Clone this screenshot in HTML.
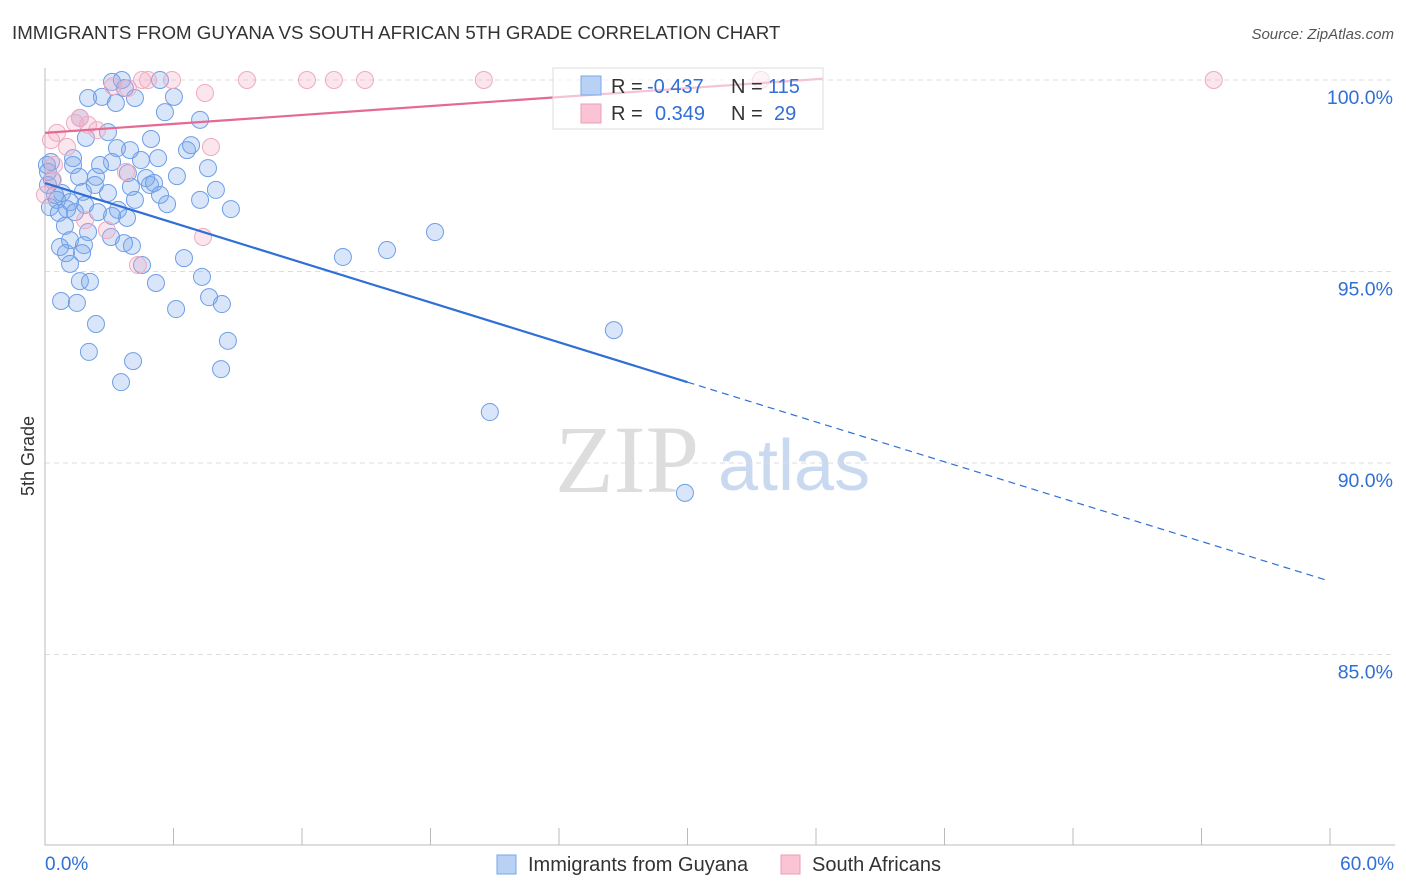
<!DOCTYPE html>
<html><head><meta charset="utf-8"><style>
body{margin:0;background:#fff;font-family:"Liberation Sans",sans-serif}
svg{display:block}
</style></head><body>
<svg id="c" width="1406" height="892">
<text x="12" y="39" font-size="18.7" fill="#333">IMMIGRANTS FROM GUYANA VS SOUTH AFRICAN 5TH GRADE CORRELATION CHART</text>
<text x="1394" y="39" font-size="15" fill="#555" text-anchor="end" font-style="italic">Source: ZipAtlas.com</text>
<text x="34" y="456" font-size="18" fill="#333" transform="rotate(-90 34 456)" text-anchor="middle">5th Grade</text>
<text x="555" y="492" font-size="96" fill="#ddd" font-family="Liberation Serif,serif">ZIP</text>
<text x="718" y="490" font-size="72" fill="#c9daf0">atlas</text>
<g id="grid"></g><g id="pts"></g><g id="lines"></g>
<g>
<rect x="553" y="68" width="270" height="61" fill="#fff" fill-opacity="0.6" stroke="#ddd"/>
<rect x="581" y="76" width="20" height="19" fill="#b9d1f5" stroke="#7aa6e8"/>
<rect x="581" y="104" width="20" height="19" fill="#fac4d5" stroke="#ec9cb6"/>
<text y="93" font-size="20" fill="#333"><tspan x="611">R =</tspan><tspan x="647" fill="#2f6fd6">-0.437</tspan><tspan x="731">N =</tspan><tspan x="768" fill="#2f6fd6">115</tspan></text>
<text y="120" font-size="20" fill="#333"><tspan x="611">R =</tspan><tspan x="655" fill="#2f6fd6">0.349</tspan><tspan x="731">N =</tspan><tspan x="774" fill="#2f6fd6">29</tspan></text>
</g>
<g>
<rect x="497" y="855" width="19" height="19" fill="#b9d1f5" stroke="#7aa6e8"/>
<text x="528" y="871" font-size="20" fill="#333">Immigrants from Guyana</text>
<rect x="781" y="855" width="19" height="19" fill="#fac4d5" stroke="#ec9cb6"/>
<text x="812" y="871" font-size="20" fill="#333">South Africans</text>
</g>
</svg>
<script>
const blueX=[3.13,3.59,5.37,3.73,2.01,2.66,4.20,6.02,3.31,1.63,2.94,1.91,4.95,3.36,6.63,6.82,1.31,3.13,4.48,5.28,0.28,1.31,7.61,0.14,1.59,2.38,3.87,6.16,4.72,0.14,2.33,4.01,4.90,5.09,7.98,0.79,1.77,2.94,5.37,7.24,0.56,1.17,1.87,4.20,5.70,0.23,1.03,2.47,3.41,8.68,3.13,3.83,0.65,1.40,0.93,2.01,1.17,3.08,3.69,4.06,18.21,15.97,13.91,0.70,1.82,0.98,1.17,1.73,6.49,4.53,7.33,1.63,2.10,5.18,0.75,1.49,7.66,8.26,6.12,2.38,26.56,8.54,2.05,4.11,8.22,3.55,20.77,29.88,0.33,0.09,0.47,2.57,3.97,5.60,7.24];
const blueY=[99.95,100,100,99.79,99.53,99.56,99.53,99.56,99.40,99.01,98.64,98.49,98.46,98.22,98.17,98.30,97.96,97.86,97.91,97.96,97.86,97.78,97.70,97.60,97.47,97.47,97.57,97.49,97.44,97.26,97.26,97.21,97.26,97.31,97.13,97.05,97.08,97.05,97.00,96.87,96.87,96.81,96.74,96.87,96.76,96.68,96.63,96.55,96.61,96.63,96.45,96.40,96.53,96.55,96.19,96.03,95.82,95.90,95.74,95.67,96.03,95.56,95.38,95.64,95.69,95.48,95.20,95.48,95.35,95.17,94.86,94.75,94.73,94.70,94.23,94.18,94.33,94.15,94.02,93.63,93.47,93.19,92.90,92.66,92.45,92.11,91.33,89.22,97.39,97.78,97.00,97.78,98.17,99.16,98.96];
const pinkX=[3.17,4.53,4.81,5.93,9.43,12.23,13.49,14.94,20.49,33.43,54.57,7.47,3.87,1.63,1.40,2.01,2.43,0.56,0.28,1.03,7.75,0.42,3.78,0.37,7.38,4.34,2.89,1.87,0];
const pinkY=[99.84,100,100,100,100,100,100,100,100,100,100,99.66,99.79,99.01,98.88,98.83,98.69,98.62,98.43,98.25,98.25,97.78,97.60,97.39,95.90,95.17,96.08,96.34,97.0];
const yTicks=[100,95,90,85];
const yTickLabels=["100.0%","95.0%","90.0%","85.0%"];
const xTickLabels=["0.0%","60.0%"];
const blueTrend=[97.31,-0.1733], pinkTrend=[98.62,0.0389];
const NS='http://www.w3.org/2000/svg';
const X=v=>45+v*(1285/60), Y=v=>80+(100-v)*38.3;
function mk(t,a,p){const e=document.createElementNS(NS,t);for(const k in a)e.setAttribute(k,a[k]);p.appendChild(e);return e;}
const g=document.getElementById('grid');
yTicks.forEach((t,i)=>{
 const l=mk('line',{x1:45,x2:1395,y1:Y(t),y2:Y(t),stroke:'#ddd','stroke-dasharray':'5,4'},g);
 
 
 const tx=mk('text',{x:1393,y:Y(t)+24,'font-size':19.5,fill:'#2f6fd6','text-anchor':'end'},g);
 tx.textContent=yTickLabels[i];
 
 
});
const ax=mk('path',{d:'M45,68V845H1395',stroke:'#bbb',fill:'none'},g);


for(let i=0;i<=10;i++){const t=mk('line',{x1:X(i*6),x2:X(i*6),y1:828,y2:845,stroke:'#bbb'},g);
 
 }
[[0,'start',45],[60,'end',1394]].forEach((d,i)=>{const t=mk('text',{x:d[2],y:870,'font-size':19,fill:'#2f6fd6','text-anchor':d[1]},g);t.textContent=xTickLabels[i];
 
 });
const p=document.getElementById('pts');
blueX.forEach((x,i)=>{const c=mk('circle',{cx:X(x),cy:Y(blueY[i]),r:8.5,fill:'rgba(120,165,235,0.28)',stroke:'#6f9ee6','stroke-width':1},p);
 
 });
pinkX.forEach((x,i)=>{const c=mk('circle',{cx:X(x),cy:Y(pinkY[i]),r:8.5,fill:'rgba(245,165,195,0.28)',stroke:'#efaac0','stroke-width':1},p);
 
 });
const L=document.getElementById('lines');
const f=(t,x)=>t[0]+t[1]*x;
let a=mk('line',{x1:X(0),y1:Y(f(blueTrend,0)),x2:X(30),y2:Y(f(blueTrend,30)),stroke:'#2f6fd6','stroke-width':2.2},L);


a=mk('line',{x1:X(30),y1:Y(f(blueTrend,30)),x2:X(59.85),y2:Y(f(blueTrend,59.85)),stroke:'#2f6fd6','stroke-width':1.2,'stroke-dasharray':'7,5'},L);


a=mk('line',{x1:X(0),y1:Y(f(pinkTrend,0)),x2:X(36.3),y2:Y(f(pinkTrend,36.3)),stroke:'#e46a93','stroke-width':2.2},L);


</script>
</body></html>
